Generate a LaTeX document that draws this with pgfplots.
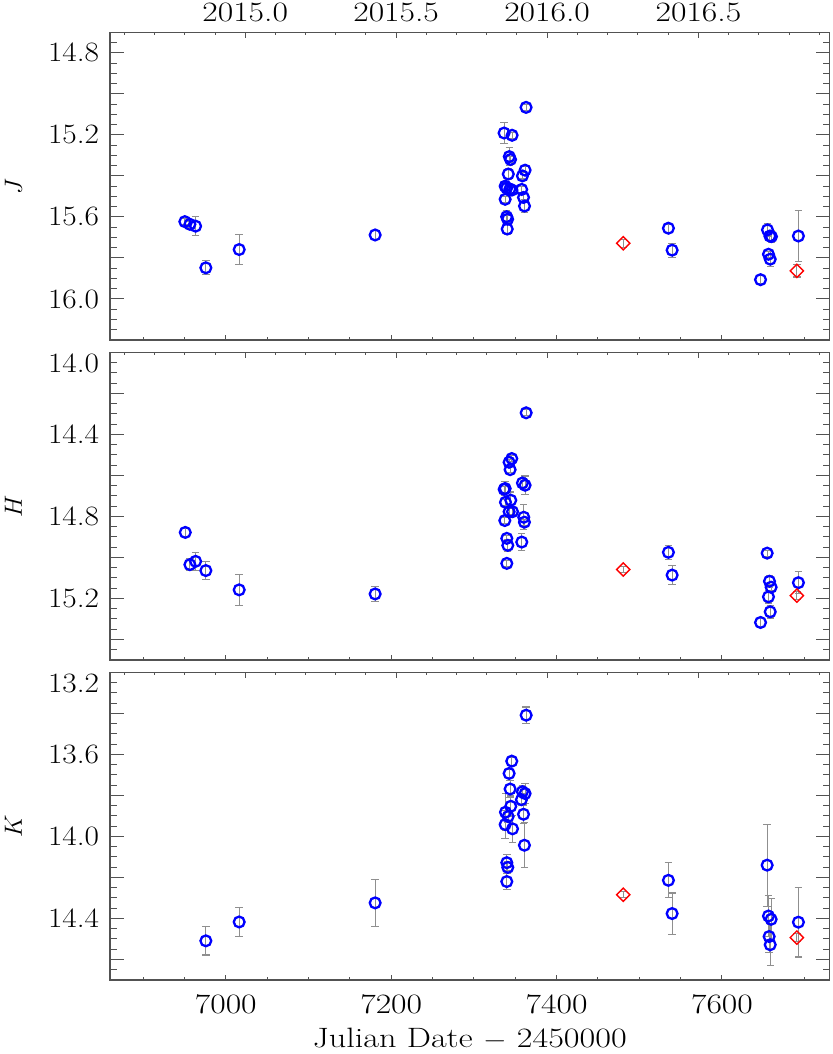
\documentclass[border=0pt]{standalone}
\usepackage{fontspec}
\usepackage{pgfplots}
\pgfplotsset{compat=1.18}
\newcommand\fs{\fontsize{28}{33}\selectfont}
\definecolor{errgray}{gray}{0.56}
\definecolor{frame}{gray}{0.32}

\pgfplotsset{
  base/.style={width=719.5pt, height=307.7pt, scale only axis,
    xmin=6860, xmax=7730, anchor=south west},
  panel/.style={base, y dir=reverse, xtick=\empty,
    axis line style={frame, line width=1.3pt},
    tick style={frame, line width=1pt}, tick align=inside,
    major tick length=14pt, minor tick length=7pt,
    yticklabel style={font=\fs, inner sep=0pt, xshift=-10.7pt, xscale=1.12},
    ylabel style={font=\fs, at={([xshift=-96.5pt]axis description cs:0,0.5)}, anchor=center}},
  jdax/.style={base, ymin=0, ymax=1, hide y axis, axis line style={draw=none},
    xtick pos=left, xticklabel pos=left, tick align=inside,
    xtick={7000,7200,7400,7600},
    minor xtick={6900,6950,7050,7100,7150,7250,7300,7350,7450,7500,7550,7650,7700},
    major tick length=5.5pt, minor tick length=2.7pt,
    tick style={frame, line width=1pt},
    xticklabel style={font=\fs, anchor=base, yshift=-33pt, xscale=1.2}},
  yrax/.style={base, ymin=0, ymax=1, hide y axis, axis line style={draw=none},
    xtick pos=right, xticklabel pos=right, tick align=inside,
    xtick={7023.5,7206,7388.5,7571.5},
    minor xtick={6877.5,6914,6950.5,6987,7060,7096.5,7133,7169.5,7242.5,7279,7315.5,7352,7425.1,7461.7,7498.3,7534.9,7608.1,7644.7,7681.3,7717.9},
    major tick length=5.5pt, minor tick length=2.7pt,
    tick style={frame, line width=1pt},
    xticklabel style={font=\fs, anchor=base, yshift=10.5pt, xscale=1.2}},
  bluepts/.style={only marks, mark=o, blue, mark size=5.4pt,
    mark options={line width=2.3pt, solid},
    /pgfplots/error bars/y dir=both, /pgfplots/error bars/y explicit,
    /pgfplots/error bars/error bar style={errgray, line width=1.1pt},
    /pgfplots/error bars/error mark options={errgray, line width=1.1pt, mark size=3.7pt, rotate=90}},
  redpts/.style={only marks, mark=square, red, mark size=4.7pt,
    mark options={line width=1.4pt, rotate=45, solid},
    /pgfplots/error bars/y dir=both, /pgfplots/error bars/y explicit,
    /pgfplots/error bars/error bar style={errgray, line width=1.1pt},
    /pgfplots/error bars/error mark options={errgray, line width=1.1pt, mark size=3.7pt, rotate=90}},
}

\begin{document}
\begin{tikzpicture}
\path[use as bounding box] (0pt,0pt) rectangle (832pt,-1054pt);

% ---------------- J ----------------
\begin{axis}[panel, at={(110pt,-340pt)}, ymin=14.7, ymax=16.2,
  ytick={14.8,15.0,15.2,15.4,15.6,15.8,16.0},
  yticklabels={14.8,{},15.2,{},15.6,{},16.0},
  minor ytick={14.7,14.75,...,16.2},
  ylabel={$J$}]
\addplot[bluepts] table[x=x, y=y, y error=e] {
x y e
6950.5 15.623 0.015
6956.6 15.636 0.015
6963.5 15.645 0.047
6975.9 15.848 0.034
7016.2 15.759 0.073
7180.6 15.688 0.024
7363.1 15.066 0.015
7336.5 15.191 0.052
7346.2 15.202 0.015
7342.8 15.306 0.045
7344.3 15.320 0.015
7361.9 15.372 0.020
7358.7 15.400 0.015
7341.6 15.391 0.028
7337.8 15.450 0.020
7339.6 15.459 0.020
7346.0 15.469 0.015
7343.5 15.464 0.015
7357.8 15.466 0.015
7337.8 15.514 0.015
7360.0 15.505 0.020
7361.2 15.547 0.030
7339.6 15.599 0.030
7340.8 15.611 0.020
7340.3 15.659 0.025
7535.2 15.655 0.020
7539.7 15.762 0.034
7655.0 15.663 0.030
7657.9 15.693 0.020
7659.8 15.696 0.030
7656.2 15.782 0.015
7658.3 15.806 0.037
7646.6 15.906 0.020
7692.4 15.693 0.123
};
\addplot[redpts] table[x=x, y=y, y error=e] {
x y e
7480.6 15.728 0.020
7690.5 15.863 0.030
};
\end{axis}
\begin{axis}[jdax, at={(110pt,-340pt)}, xticklabels={}]
\end{axis}
\begin{axis}[yrax, at={(110pt,-340pt)}, xticklabels={2015.0,2015.5,2016.0,2016.5}]
\end{axis}

% ---------------- H ----------------
\begin{axis}[panel, at={(110pt,-660pt)}, ymin=14.0, ymax=15.5,
  ytick={14.0,14.2,14.4,14.6,14.8,15.0,15.2,15.4},
  yticklabels={\raisebox{-11pt}[\height][0pt]{14.0},{},14.4,{},14.8,{},15.2,{}},
  minor ytick={14.0,14.05,...,15.5},
  ylabel={$H$}]
\addplot[bluepts] table[x=x, y=y, y error=e] {
x y e
6951.0 14.878 0.020
6956.6 15.035 0.030
6963.5 15.019 0.045
6975.9 15.064 0.045
7016.2 15.158 0.077
7180.6 15.178 0.038
7363.2 14.295 0.015
7345.8 14.518 0.015
7342.6 14.536 0.015
7343.8 14.572 0.015
7358.7 14.637 0.020
7361.9 14.648 0.045
7337.8 14.664 0.035
7336.6 14.668 0.015
7338.2 14.731 0.015
7344.6 14.721 0.040
7342.6 14.777 0.015
7346.7 14.777 0.015
7337.4 14.820 0.015
7360.3 14.804 0.060
7361.1 14.828 0.015
7339.8 14.907 0.015
7341.0 14.941 0.030
7357.9 14.925 0.040
7339.8 15.029 0.015
7535.2 14.975 0.035
7539.7 15.086 0.047
7654.6 14.979 0.015
7657.4 15.116 0.030
7659.4 15.145 0.015
7656.2 15.192 0.030
7658.3 15.265 0.030
7646.6 15.317 0.025
7692.4 15.123 0.053
};
\addplot[redpts] table[x=x, y=y, y error=e] {
x y e
7480.6 15.059 0.015
7690.5 15.186 0.020
};
\end{axis}
\begin{axis}[jdax, at={(110pt,-660pt)}, xticklabels={}]
\end{axis}
\begin{axis}[yrax, at={(110pt,-660pt)}, xticklabels={}]
\end{axis}

% ---------------- K ----------------
\begin{axis}[panel, at={(110pt,-980pt)}, ymin=13.2, ymax=14.7,
  ytick={13.2,13.4,13.6,13.8,14.0,14.2,14.4,14.6},
  yticklabels={\raisebox{-11pt}[\height][0pt]{13.2},{},13.6,{},14.0,{},14.4,{}},
  minor ytick={13.2,13.25,...,14.7},
  ylabel={$K$}]
\addplot[bluepts] table[x=x, y=y, y error=e] {
x y e
6975.9 14.509 0.069
7016.2 14.417 0.069
7180.6 14.324 0.113
7363.2 13.409 0.040
7345.8 13.633 0.020
7342.6 13.693 0.020
7343.8 13.769 0.040
7358.7 13.782 0.030
7361.9 13.791 0.050
7357.5 13.821 0.030
7344.6 13.853 0.050
7338.2 13.882 0.090
7341.4 13.903 0.030
7337.8 13.942 0.070
7346.7 13.963 0.065
7360.0 13.892 0.045
7361.1 14.043 0.110
7339.8 14.128 0.040
7341.0 14.151 0.030
7339.8 14.220 0.040
7535.2 14.214 0.085
7539.7 14.376 0.100
7654.6 14.140 0.200
7656.2 14.388 0.100
7659.4 14.404 0.100
7657.0 14.488 0.080
7658.3 14.528 0.100
7692.4 14.418 0.170
};
\addplot[redpts] table[x=x, y=y, y error=e] {
x y e
7480.6 14.284 0.015
7690.5 14.493 0.020
};
\end{axis}
\begin{axis}[jdax, at={(110pt,-980pt)},
  xticklabels={7000,7200,7400,7600},
  xlabel={Julian Date $-$ 2450000},
  xlabel style={font=\fs, at={([yshift=-67pt]axis description cs:0.5,0)}, anchor=base, xscale=1.22}]
\end{axis}
\begin{axis}[yrax, at={(110pt,-980pt)}, xticklabels={}]
\end{axis}
\end{tikzpicture}
\end{document}
